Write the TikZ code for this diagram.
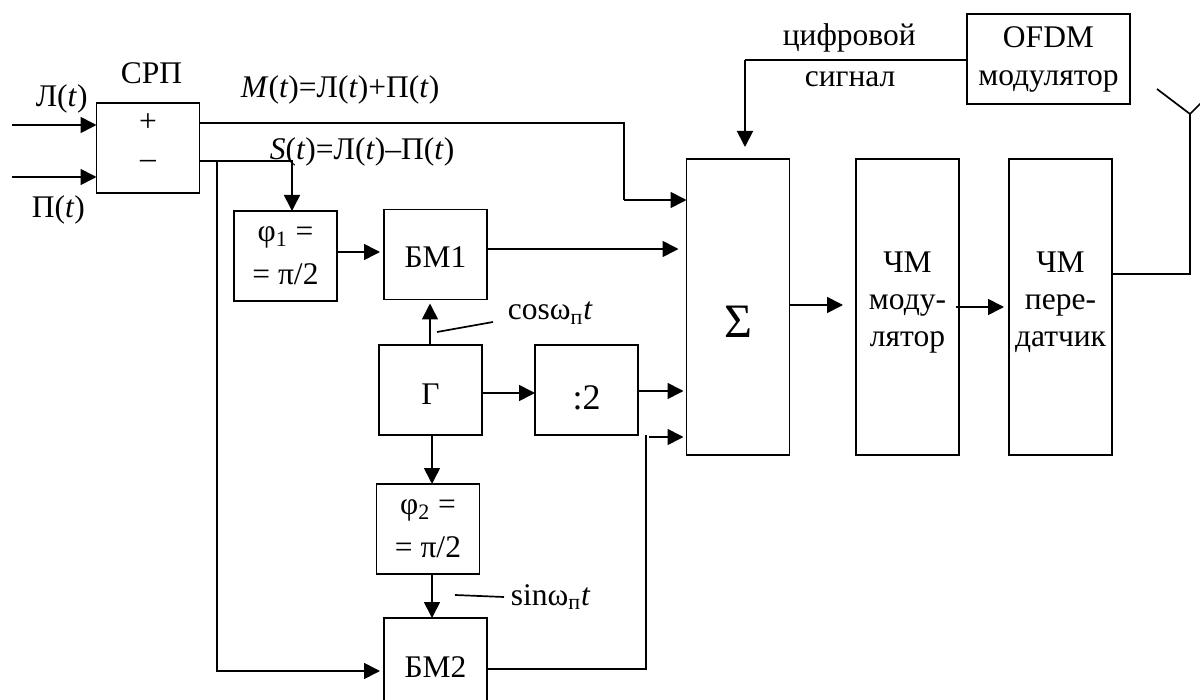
\documentclass[tikz,border=0pt]{standalone}
\usepackage{fontspec}
\setmainfont{Liberation Serif}
\usetikzlibrary{arrows.meta}
\tikzset{
  blockbox/.style={draw, line width=.9pt, outer sep=0pt, inner sep=0pt, align=center,
    minimum width=51.5pt, minimum height=45pt, font=\fontsize{15.75}{19}\selectfont},
  tallbox/.style={blockbox, minimum height=148pt, font=\fontsize{15.75}{18.5}\selectfont},
  sig/.style={-{Triangle[length=8pt,width=8pt]}},
  lbl/.style={anchor=base west, inner sep=0pt, font=\fontsize{15.75}{19}\selectfont}
}
\newcommand{\tm}{\textit{t}}
\newcommand{\dropped}[2]{\raisebox{#1}[0pt][0pt]{#2}}
\newcommand{\stacked}[2]{\dropped{#1}{\begin{tabular}{@{}c@{}}#2\end{tabular}}}
\begin{document}
\begin{tikzpicture}[x=.5pt, y=-.5pt, line width=.85pt]
      \useasboundingbox (0,0) rectangle (1200,700);
      \node[blockbox, font=\fontsize{15.75}{18.5}\selectfont] (srp) at (148,148) {\stacked{-1pt}{+\\–}};
      \node[blockbox, font=\fontsize{15.75}{21.5}\selectfont] (phione) at (285.5,256) {φ\textsubscript{1} =\\= π/2};
      \node[blockbox] (bmone) at (435.5,254.5) {\dropped{-6.75pt}{БМ1}};
      \node[blockbox] (gen) at (430.5,390) {\dropped{-7pt}{Г}};
      \node[blockbox, font=\fontsize{18}{22}\selectfont] (divtwo) at (586.5,390) {\dropped{-9.5pt}{:2}};
      \node[tallbox, font=\fontsize{24}{28}\selectfont] (sum) at (738,307) {\dropped{-15.5pt}{Σ}};
      \node[tallbox] (fmmod) at (907.5,307) {\stacked{-1pt}{ЧМ\\моду-\\лятор}};
      \node[tallbox] (fmtx) at (1060.5,307) {\stacked{-1pt}{ЧМ\\пере-\\датчик}};
      \node[blockbox, minimum width=81.5pt] (ofdm) at (1048.5,59) {OFDM\\модулятор};
      \node[blockbox, font=\fontsize{15.75}{21.5}\selectfont] (phitwo) at (428,529) {φ\textsubscript{2} =\\= π/2};
      \node[blockbox] (bmtwo) at (435.5,663) {\dropped{-7pt}{БМ2}};

      \node[lbl] (lleft) at (35,107) {Л(\tm)};
      \node[lbl] (lright) at (31,218) {П(\tm)};
      \node[lbl] (lsrp) at (120,84) {СРП};
      \node[lbl] (lmid) at (240,98) {\textit{M}(\tm)=Л(\tm)+П(\tm)};
      \node[lbl] (lside) at (269,160) {\textit{S}(\tm)=Л(\tm)–П(\tm)};
      \node[lbl] (lcos) at (507,320) {cosω\textsubscript{п}\tm};
      \node[lbl] (lsin) at (510,605) {sinω\textsubscript{п}\tm};
      \node[lbl] (ldigone) at (782,46) {цифровой};
      \node[lbl] (ldigtwo) at (804,87) {сигнал};

      \coordinate (lin) at (12,125);
      \coordinate (pin) at (12,177);
      \draw[sig] (lin) -- (lin -| srp.west);
      \draw[sig] (pin) -- (pin -| srp.west);

      \coordinate (mcorner) at (624,123);
      \coordinate (mdown) at (624,200);
      \draw (mcorner -| srp.east) -- (mcorner) -- (mdown);
      \draw[sig] (mdown) -- (mdown -| sum.west);

      \coordinate (scorner) at (292,161);
      \coordinate (sbranch) at (217,161);
      \coordinate (sdown) at (217,671);
      \draw[sig] (scorner -| srp.east) -- (scorner) -- (scorner |- phione.north);
      \draw[sig, shorten >=2pt] (sbranch) -- (sdown) -- (sdown -| bmtwo.west);

      \coordinate (phiout) at (336,252);
      \coordinate (bmoneout) at (487,249);
      \draw[sig, shorten >=2pt] (phiout) -- (phiout -| bmone.west);
      \draw[sig, shorten >=4pt] (bmoneout) -- (bmoneout -| sum.west);

      \coordinate (genup) at (430,345);
      \coordinate (gendown) at (432,435);
      \coordinate (genright) at (483,393);
      \coordinate (divout) at (639,391);
      \draw[sig, shorten >=2pt] (genup) -- (genup |- bmone.south);
      \draw[sig] (gendown) -- (gendown |- phitwo.north);
      \draw[sig] (gendown |- phitwo.south) -- (gendown |- bmtwo.north);
      \draw[sig] (genright) -- (genright -| divtwo.west);
      \draw[sig, shorten >=1.5pt] (divout) -- (divout -| sum.west);

      \coordinate (cosa) at (437,332);
      \coordinate (cosb) at (493,322);
      \coordinate (sina) at (455,595);
      \coordinate (sinb) at (504,597);
      \draw (cosa) -- (cosb);
      \draw (sina) -- (sinb);

      \coordinate (bmtwoout) at (487,669);
      \coordinate (bmcorner) at (646,669);
      \coordinate (bmup) at (646,435);
      \coordinate (bmin) at (649,437);
      \draw (bmtwoout) -- (bmcorner) -- (bmup);
      \draw[sig, shorten >=1.5pt] (bmin) -- (bmin -| sum.west);

      \coordinate (sumout) at (789,305);
      \coordinate (modin) at (843,305);
      \coordinate (modout) at (956,307);
      \coordinate (txin) at (1004,307);
      \draw[sig] (sumout) -- (modin);
      \draw[sig] (modout) -- (txin);

      \coordinate (ofdmcorner) at (745,60);
      \coordinate (ofdmtip) at (745,147);
      \draw (ofdmcorner -| ofdm.west) -- (ofdmcorner);
      \draw[sig] (ofdmcorner) -- (ofdmtip);

      \coordinate (txcorner) at (1190,274);
      \coordinate (antfoot) at (1190,114);
      \coordinate (antleft) at (1157,89);
      \coordinate (antright) at (1202,102);
      \draw[line width=1pt] (txcorner -| fmtx.east) -- (txcorner) -- (antfoot);
      \draw (antleft) -- (antfoot) -- (antright);
    \end{tikzpicture}
\end{document}
